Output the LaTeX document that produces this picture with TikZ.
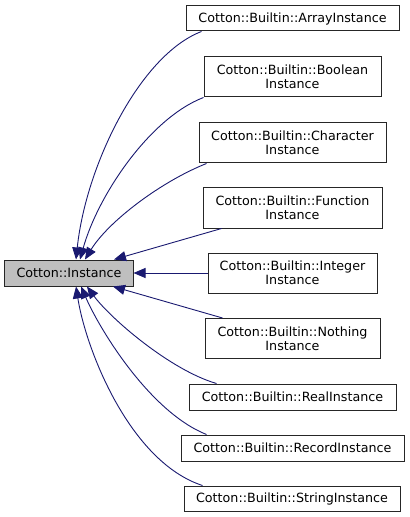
\documentclass[tikz,border=0pt]{standalone}
\usepackage{fontspec}
\setmainfont{DejaVu Sans}
\usetikzlibrary{arrows.meta}
\definecolor{edgeblue}{HTML}{191970}
\definecolor{basefill}{HTML}{BFBFBF}
\begin{document}
\begin{tikzpicture}[x=1bp,y=-1bp,
  cls/.style={draw=black!85, line width=1bp, fill=white, inner sep=0pt, align=center,
    font=\fontsize{12.7bp}{14bp}\selectfont},
  edge/.style={draw=edgeblue, line width=0.9bp, -{Triangle[length=12bp,width=10bp]}}]
\useasboundingbox (0,0) rectangle (409,517);
\node[cls, minimum width=213bp, minimum height=25bp] (arr) at (292.5,18.5) {Cotton::Builtin::ArrayInstance};
\node[cls, minimum width=177bp, minimum height=40bp] (boo) at (292.5,77) {Cotton::Builtin::Boolean\\Instance};
\node[cls, minimum width=187bp, minimum height=40bp] (cha) at (292.5,143) {Cotton::Builtin::Character\\Instance};
\node[cls, minimum width=179bp, minimum height=40bp] (fun) at (292.5,208) {Cotton::Builtin::Function\\Instance};
\node[cls, minimum width=169bp, minimum height=40bp] (int) at (292.5,273) {Cotton::Builtin::Integer\\Instance};
\node[cls, fill=basefill, minimum width=128bp, minimum height=26bp] (ins) at (69,273) {Cotton::Instance};
\node[cls, minimum width=175bp, minimum height=40bp] (not) at (292.5,338.5) {Cotton::Builtin::Nothing\\Instance};
\node[cls, minimum width=207bp, minimum height=26bp] (rea) at (292.5,397) {Cotton::Builtin::RealInstance};
\node[cls, minimum width=223bp, minimum height=26bp] (rec) at (292.5,448) {Cotton::Builtin::RecordInstance};
\node[cls, minimum width=216bp, minimum height=25bp] (str) at (292,498.5) {Cotton::Builtin::StringInstance};

\draw[edge] ([xshift=16bp]arr.south west) .. controls (140,55) and (86,165) .. ([xshift=7bp]ins.north);
\draw[edge] (boo.south west) .. controls (150,118) and (98,195) .. ([xshift=11bp]ins.north);
\draw[edge] ([xshift=8bp]cha.south west) .. controls (160,182) and (108,222) .. ([xshift=16bp]ins.north);
\draw[edge] ([xshift=19bp]fun.south west) -- ([xshift=45bp]ins.north);
\draw[edge] (int.west) -- (ins.east);
\draw[edge] ([xshift=18bp]not.north west) -- ([xshift=44bp]ins.south);
\draw[edge] ([xshift=28bp]rea.north west) .. controls (170,370) and (110,318) .. ([xshift=18bp]ins.south);
\draw[edge] ([xshift=26bp]rec.north west) .. controls (150,412) and (100,330) .. ([xshift=12bp]ins.south);
\draw[edge] ([xshift=19bp]str.north west) .. controls (130,462) and (86,350) .. ([xshift=7bp]ins.south);
\end{tikzpicture}
\end{document}
